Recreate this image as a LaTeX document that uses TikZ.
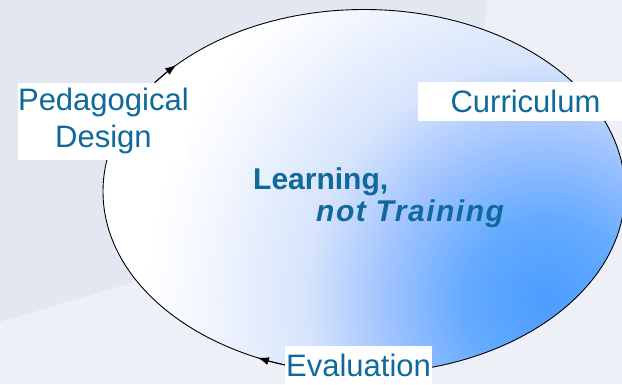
\documentclass[tikz,border=0pt]{standalone}
\usepackage{fontspec}
\setmainfont{Liberation Sans}
\usepackage{tikz}
\usetikzlibrary{arrows.meta}
\definecolor{labelblue}{RGB}{15,105,155}
\definecolor{bgdark}{RGB}{227,231,242}
\definecolor{bglight}{RGB}{237,240,246}
\definecolor{glowblue}{RGB}{76,157,255}
\definecolor{glowdeep}{RGB}{100,170,255}
\definecolor{glowmid}{RGB}{160,195,255}
\definecolor{glowpale}{RGB}{215,228,252}
\definecolor{glowwhite}{RGB}{245,248,255}
\pgfdeclareradialshading{glow}{\pgfpoint{0bp}{0bp}}{color(0bp)=(glowblue); color(5bp)=(glowdeep); color(10bp)=(glowmid); color(15bp)=(glowpale); color(22bp)=(glowwhite); color(25bp)=(white); color(50bp)=(white)}

\begin{document}
\begin{tikzpicture}[x=1pt,y=1pt,
  lbl/.style={fill=white,text=labelblue,font=\fontsize{31}{37}\selectfont,inner sep=0pt},
  mid/.style={text=labelblue,font=\fontsize{30}{33}\selectfont\bfseries,inner sep=0pt,anchor=base west},
  cyc/.style={line width=0.9pt},
  tip/.style={cyc,-{Latex[length=11pt,width=8pt]}}]
\useasboundingbox (0,0) rectangle (622,384);
% background
\fill[bgdark] (0,0) rectangle (622,384);
\fill[bglight] (488,384)--(622,384)--(622,0)--(0,0)--(0,62)--(131,101)--(470,250)--cycle;
% the cycle
\coordinate (c) at (364,192.5);
\begin{scope}
\clip (c) ellipse [x radius=261, y radius=182];
\fill[white] (c) ellipse [x radius=261, y radius=182];
\shade[shading=glow] (545,84) circle (400);
\end{scope}
\draw[cyc] (c) ellipse [x radius=261, y radius=182];
\draw[tip] (c) ++(143:261 and 182) arc[start angle=143,end angle=136,x radius=261,y radius=182];
\draw[tip] (c) ++(253:261 and 182) arc[start angle=253,end angle=246,x radius=261,y radius=182];
% labels
\node (ped) at (103.4,263) [lbl,minimum width=171,minimum height=77,align=center] {Pedagogical\\Design};
\node (cur) at (525.5,282.7) [lbl,minimum width=216,minimum height=39] {Curriculum};
\node (eva) at (358.5,7.3) [lbl,anchor=base,inner xsep=1pt,inner ysep=8pt] {Evaluation};
\node (learn) at (253,195) [mid] {Learning,};
\node (nottrain) at (316,162.3) [mid] {\itshape\addfontfeature{LetterSpace=5}not Training};
\end{tikzpicture}
\end{document}
